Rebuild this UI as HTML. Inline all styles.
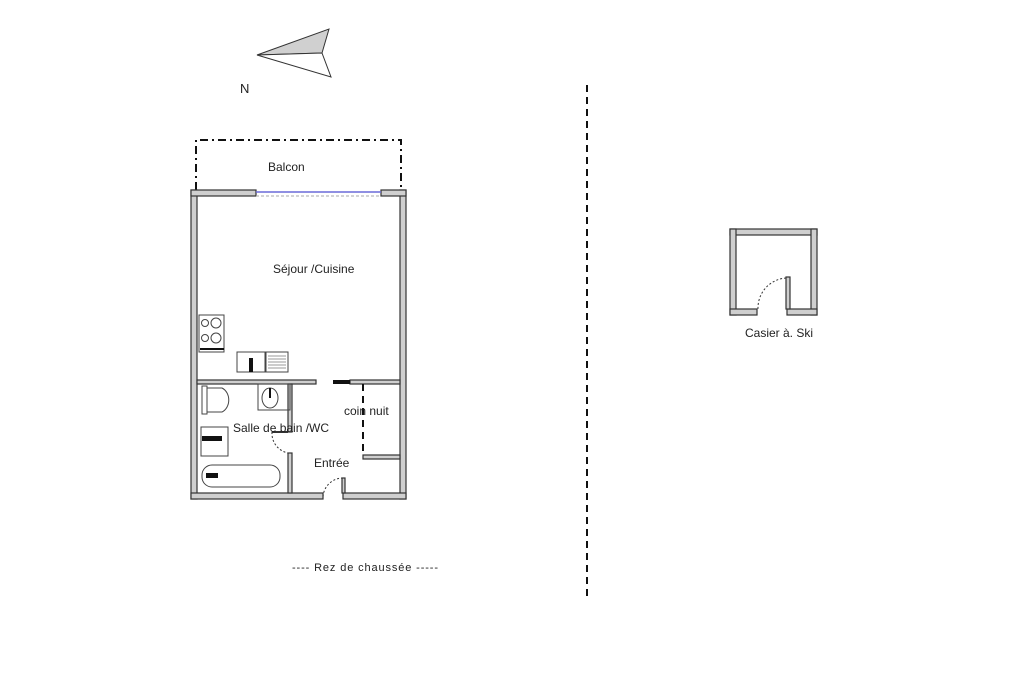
<!DOCTYPE html>
<html><head><meta charset="utf-8"><style>
html,body{margin:0;padding:0;background:#fff;}
svg{display:block;font-family:"Liberation Sans","DejaVu Sans",sans-serif;}
</style></head><body>
<svg width="1024" height="699" viewBox="0 0 1024 699" xmlns="http://www.w3.org/2000/svg">
<rect width="1024" height="699" fill="#fff"/>
<polygon points="257,55 329,29 322,53" fill="#d0d0d0" stroke="#333" stroke-width="1"/>
<polygon points="257,55 322,53 331,77" fill="#fff" stroke="#333" stroke-width="1"/>
<text x="240" y="93" font-size="13" fill="#222">N</text>
<line x1="587" y1="85" x2="587" y2="600" stroke="#111" stroke-width="2" stroke-dasharray="7,5"/>
<path d="M196,190 V140 H401 V190" fill="none" stroke="#111" stroke-width="2" stroke-dasharray="8,4,2,4"/>
<text x="268" y="171" font-size="12" fill="#222">Balcon</text>
<g fill="#cfcfcf" stroke="#333" stroke-width="1.2">
<rect x="191" y="190" width="6" height="309"/>
<rect x="400" y="190" width="6" height="309"/>
<rect x="191" y="190" width="65" height="6"/>
<rect x="381" y="190" width="25" height="6"/>
<rect x="191" y="493" width="132" height="6"/>
<rect x="343" y="493" width="63" height="6"/>
<rect x="197" y="380" width="119" height="4"/>
<rect x="350" y="380" width="50" height="4"/>
<rect x="288" y="384" width="4" height="48"/>
<rect x="288" y="453" width="4" height="40"/>
<rect x="363" y="455" width="37" height="4"/>
<rect x="342" y="478" width="3" height="15"/>
</g>
<rect x="333" y="380" width="17" height="4" fill="#111"/>
<line x1="256" y1="192" x2="381" y2="192" stroke="#6a6ad8" stroke-width="1.5"/>
<line x1="256" y1="196" x2="381" y2="196" stroke="#aaa" stroke-width="1" stroke-dasharray="3,2"/>
<line x1="363" y1="384" x2="363" y2="455" stroke="#111" stroke-width="2" stroke-dasharray="7,5"/>
<path d="M272,432 H288" stroke="#333" stroke-width="2"/>
<path d="M272,432 A20,20 0 0 0 288,453" fill="none" stroke="#333" stroke-dasharray="2,2"/>
<path d="M343,478 A20,20 0 0 0 323,497" fill="none" stroke="#333" stroke-dasharray="2,2"/>
<g fill="none" stroke="#444" stroke-width="1">
<rect x="199" y="315" width="25" height="37"/>
<circle cx="205" cy="323" r="3.5"/><circle cx="216" cy="323" r="5"/>
<circle cx="205" cy="338" r="3.5"/><circle cx="216" cy="338" r="5"/>
<rect x="237" y="352" width="28" height="20"/>
<rect x="266" y="352" width="22" height="20"/>
<rect x="258" y="384" width="32" height="26"/>
<ellipse cx="270" cy="398" rx="8" ry="10"/>
<path d="M207,388 H222 A11,13 0 0 1 222,412 H207"/>
<rect x="202" y="386" width="5" height="28"/>
<rect x="201" y="427" width="27" height="29"/>
<rect x="202" y="465" width="78" height="22" rx="10"/>
</g>
<g fill="#111">
<rect x="249" y="358" width="4" height="14"/>
<rect x="202" y="436" width="20" height="5"/>
<rect x="206" y="473" width="12" height="5"/>
<rect x="269" y="388" width="2" height="10"/>
<rect x="200" y="348" width="24" height="2"/>
</g>
<g stroke="#999">
<line x1="268" y1="356" x2="286" y2="356"/><line x1="268" y1="359" x2="286" y2="359"/><line x1="268" y1="362" x2="286" y2="362"/><line x1="268" y1="365" x2="286" y2="365"/><line x1="268" y1="368" x2="286" y2="368"/>
</g>
<text x="273" y="273" font-size="12" fill="#222">Séjour /Cuisine</text>
<text x="344" y="415" font-size="12" fill="#222">coin nuit</text>
<text x="233" y="432" font-size="12" fill="#222">Salle de bain /WC</text>
<text x="314" y="467" font-size="12" fill="#222">Entrée</text>
<text x="292" y="571" font-size="11" fill="#222" textLength="146" lengthAdjust="spacing">----  Rez de chaussée  -----</text>
<g fill="#cfcfcf" stroke="#333" stroke-width="1.2">
<rect x="730" y="229" width="87" height="6"/>
<rect x="730" y="229" width="6" height="86"/>
<rect x="811" y="229" width="6" height="86"/>
<rect x="730" y="309" width="27" height="6"/>
<rect x="787" y="309" width="30" height="6"/>
<rect x="786" y="277" width="4" height="32"/>
</g>
<path d="M786,278 A30,30 0 0 0 758,309" fill="none" stroke="#333" stroke-dasharray="2,2"/>
<text x="745" y="337" font-size="12" fill="#222">Casier à. Ski</text>
</svg>
</body></html>
